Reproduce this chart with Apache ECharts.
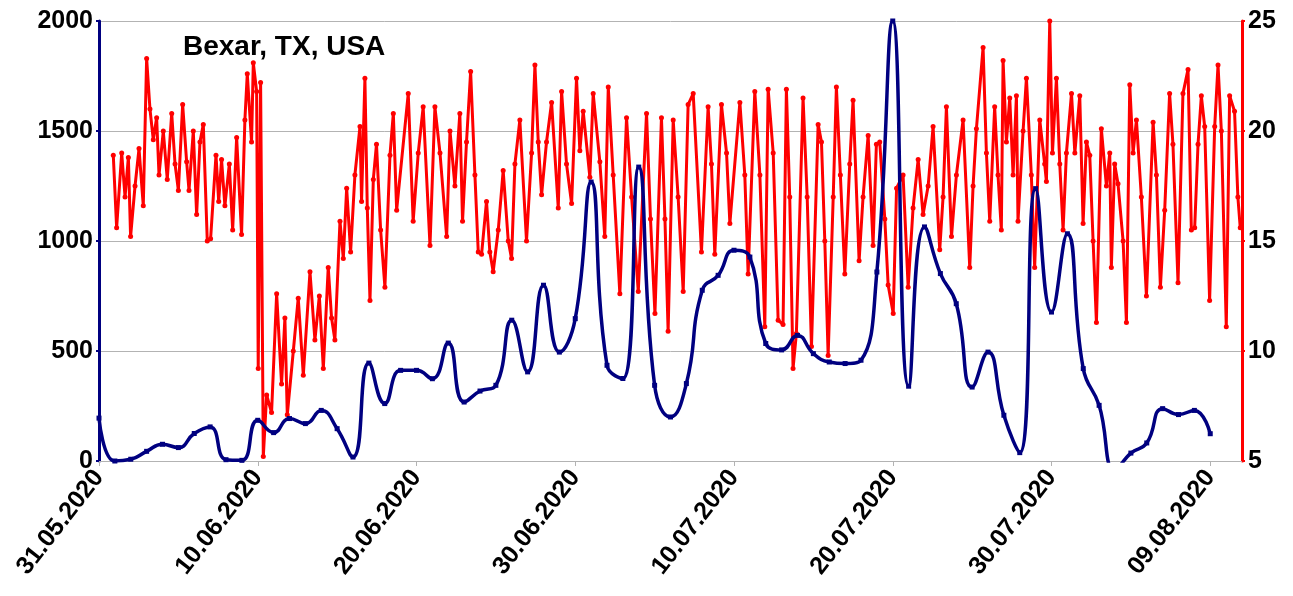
<!DOCTYPE html>
<html>
<head>
<meta charset="utf-8">
<script src="https://cdn.jsdelivr.net/npm/echarts@6/dist/echarts.min.js"></script>
<style>
  html, body { margin: 0; padding: 0; background: #fff; }
  #main { width: 1293px; height: 596px; }
</style>
</head>
<body>
<div id="main"></div>
<script>
// x axis is "days since 31.05.2020"
var dateLabels = ['31.05.2020', '10.06.2020', '20.06.2020', '30.06.2020',
  '10.07.2020', '20.07.2020', '30.07.2020', '09.08.2020'];

// daily values (left axis), one per day from 31.05 to 09.08
var dailyCases = [
  195, 0, 8, 44, 76, 61, 125, 155, 6, 3,
  185, 129, 193, 170, 230, 147, 18, 445, 261, 412,
  412, 374, 536, 268, 318, 344, 640, 405, 799, 495,
  647, 1268, 435, 375, 1336, 344, 200, 352, 776, 844,
  958, 927, 534, 505, 571, 488, 450, 443, 458, 859,
  2000, 340, 1064, 852, 715, 336, 495, 208, 38, 1238,
  677, 1033, 420, 253, -40, 36, 82, 238, 211, 230,
  124
];

// hourly-ish series (right axis): [day offset, value]
var temperature = [
  [0.90, 18.9], [1.11, 15.6], [1.43, 19.0], [1.64, 17.0], [1.85, 18.8], [1.99, 15.2],
  [2.27, 17.5], [2.52, 19.2], [2.79, 16.6], [3.00, 23.3], [3.21, 21.0], [3.42, 19.6],
  [3.63, 20.6], [3.78, 18.0], [4.05, 20.0], [4.30, 17.8], [4.58, 20.8], [4.79, 18.5],
  [5.00, 17.3], [5.27, 21.2], [5.52, 18.6], [5.67, 17.3], [5.94, 20.0], [6.15, 16.2],
  [6.36, 19.5], [6.57, 20.3], [6.82, 15.0], [7.03, 15.1], [7.37, 18.9], [7.54, 16.8],
  [7.72, 18.7], [7.93, 16.6], [8.21, 18.5], [8.42, 15.5], [8.67, 19.7], [8.98, 15.3],
  [9.19, 20.5], [9.34, 22.6], [9.61, 19.5], [9.72, 23.1], [9.93, 21.8], [10.03, 9.2],
  [10.18, 22.2], [10.35, 5.2], [10.56, 8.0], [10.87, 7.2], [11.19, 12.6], [11.50, 8.5],
  [11.71, 11.5], [11.86, 7.1], [12.24, 10.0], [12.55, 12.4], [12.87, 8.9], [13.29, 13.6],
  [13.60, 10.5], [13.88, 12.5], [14.13, 9.2], [14.44, 13.8], [14.65, 11.5], [14.86, 10.5],
  [15.18, 15.9], [15.39, 14.2], [15.60, 17.4], [15.85, 14.5], [16.12, 18.0], [16.44, 20.2],
  [16.54, 16.8], [16.75, 22.4], [16.90, 16.5], [17.07, 12.3], [17.28, 17.8], [17.48, 19.4],
  [17.74, 15.5], [18.01, 12.9], [18.33, 18.9], [18.54, 20.8], [18.75, 16.4], [19.48, 21.7],
  [19.79, 15.9], [20.11, 19.0], [20.42, 21.1], [20.85, 14.8], [21.16, 21.1], [21.48, 19.0],
  [21.90, 15.2], [22.11, 20.0], [22.42, 17.5], [22.73, 20.8], [22.90, 15.9], [23.15, 19.5],
  [23.41, 22.7], [23.68, 18.0], [23.89, 14.5], [24.10, 14.4], [24.41, 16.8], [24.62, 14.5],
  [24.83, 13.6], [25.15, 15.5], [25.46, 18.2], [25.78, 15.0], [25.99, 14.2], [26.20, 18.5],
  [26.51, 20.5], [26.93, 15.0], [27.25, 19.0], [27.46, 23.0], [27.67, 19.5], [27.88, 17.1],
  [28.19, 19.5], [28.51, 21.3], [28.93, 16.5], [29.14, 21.8], [29.45, 18.5], [29.77, 16.7],
  [30.08, 22.4], [30.29, 19.1], [30.50, 20.9], [30.92, 17.9], [31.13, 21.7], [31.55, 18.6],
  [31.86, 15.2], [32.08, 22.0], [32.39, 18.0], [32.81, 12.6], [33.23, 20.6], [33.55, 17.0],
  [33.97, 12.7], [34.49, 20.8], [34.74, 16.0], [35.02, 11.7], [35.43, 20.6], [35.65, 16.0],
  [35.85, 10.9], [36.17, 20.5], [36.48, 17.0], [36.80, 12.7], [37.11, 21.2], [37.43, 21.7],
  [37.95, 14.5], [38.37, 21.1], [38.58, 18.5], [38.79, 14.4], [39.21, 21.2], [39.53, 19.0],
  [39.74, 15.8], [40.37, 21.3], [40.68, 18.0], [40.89, 13.5], [41.31, 21.8], [41.63, 18.0],
  [41.94, 11.1], [42.15, 21.9], [42.47, 19.0], [42.78, 11.4], [43.09, 11.2], [43.30, 21.9],
  [43.51, 17.0], [43.72, 9.2], [43.93, 10.8], [44.35, 21.5], [44.61, 17.0], [44.88, 10.2],
  [45.30, 20.3], [45.51, 19.5], [45.72, 15.0], [45.93, 9.8], [46.25, 17.0], [46.45, 22.0],
  [46.70, 18.0], [46.98, 13.5], [47.29, 18.5], [47.50, 21.4], [47.88, 14.1], [48.13, 17.0],
  [48.45, 19.8], [48.76, 14.8], [48.97, 19.4], [49.18, 19.5], [49.50, 16.0], [49.71, 13.0],
  [50.03, 11.7], [50.24, 17.4], [50.65, 18.0], [50.97, 12.9], [51.28, 16.5], [51.60, 18.7],
  [51.91, 16.2], [52.23, 17.5], [52.54, 20.2], [52.96, 14.6], [53.17, 17.0], [53.38, 21.1],
  [53.70, 15.2], [54.01, 18.0], [54.43, 20.5], [54.85, 13.8], [55.06, 17.5], [55.27, 20.1],
  [55.69, 23.8], [55.90, 19.0], [56.11, 15.9], [56.42, 21.1], [56.63, 18.0], [56.84, 15.5],
  [56.95, 23.2], [57.16, 19.5], [57.37, 21.5], [57.58, 18.0], [57.79, 21.6], [57.89, 15.9],
  [58.21, 20.0], [58.42, 22.4], [58.73, 18.0], [58.94, 13.8], [59.26, 20.5], [59.57, 18.5],
  [59.68, 17.7], [59.89, 25.0], [60.06, 19.0], [60.31, 22.4], [60.52, 18.5], [60.73, 15.5],
  [60.94, 19.0], [61.26, 21.7], [61.47, 19.0], [61.78, 21.6], [61.99, 15.8], [62.20, 19.5],
  [62.41, 18.9], [62.62, 15.0], [62.83, 11.3], [63.14, 20.1], [63.46, 17.5], [63.67, 19.0],
  [63.77, 13.8], [63.98, 18.5], [64.19, 17.6], [64.51, 15.0], [64.72, 11.3], [64.93, 22.1],
  [65.14, 19.0], [65.35, 20.5], [65.66, 17.0], [65.98, 12.5], [66.40, 20.4], [66.61, 18.0],
  [66.86, 12.9], [67.13, 16.4], [67.44, 21.7], [67.65, 19.4], [67.97, 13.1], [68.28, 21.7],
  [68.60, 22.8], [68.81, 15.5], [69.02, 15.6], [69.23, 19.4], [69.44, 21.6], [69.65, 20.2],
  [69.96, 12.3], [70.28, 20.2], [70.49, 23.0], [70.70, 20.0], [71.01, 11.1], [71.22, 21.6],
  [71.53, 20.9], [71.74, 17.0], [71.89, 15.6]
];

var labelFont = {
  color: '#000',
  fontFamily: 'Liberation Sans',
  fontWeight: 'bold',
  fontSize: 25
};

(function() {
  var myChart = echarts.init(document.getElementById('main'));
  var casePoints = dailyCases.map(function(v, i) { return [i, v]; });
  var plain = function(v) { return String(v); };

  var option = {
    animation: false,
    backgroundColor: '#fff',
    title: {
      text: 'Bexar, TX, USA',
      left: 178,
      top: 28,
      textStyle: {
        color: '#000',
        fontFamily: 'Liberation Sans',
        fontWeight: 'bold',
        fontSize: 28
      }
    },
    grid: { left: 99, right: 51, top: 21, bottom: 135 },
    xAxis: {
      type: 'value',
      min: 0,
      max: 72,
      interval: 10,
      axisLine: { onZero: false, lineStyle: { color: '#b3b3b3', width: 1 } },
      axisTick: { show: true, length: 5, lineStyle: { color: '#b3b3b3' } },
      splitLine: { show: false },
      axisLabel: Object.assign({
        rotate: 52,
        margin: 12,
        showMaxLabel: false,
        formatter: function(v) {
          return v % 10 === 0 ? (dateLabels[v / 10] || '') : '';
        }
      }, labelFont)
    },
    yAxis: [
      {
        type: 'value',
        min: 0,
        max: 2000,
        interval: 500,
        axisLine: { show: true, lineStyle: { color: '#000080', width: 3 } },
        axisTick: { show: true, length: 3, lineStyle: { color: '#000080', width: 2 } },
        splitLine: { show: true, lineStyle: { color: '#b3b3b3', width: 1 } },
        axisLabel: Object.assign({ margin: 6, formatter: plain }, labelFont)
      },
      {
        type: 'value',
        position: 'right',
        min: 5,
        max: 25,
        interval: 5,
        axisLine: { show: true, lineStyle: { color: '#ff0000', width: 3 } },
        axisTick: { show: true, length: 3, lineStyle: { color: '#ff0000', width: 2 } },
        splitLine: { show: false },
        axisLabel: Object.assign({ margin: 6, formatter: plain }, labelFont)
      }
    ],
    series: [
      {
        name: 'temperature',
        type: 'line',
        yAxisIndex: 1,
        data: temperature,
        symbol: 'circle',
        symbolSize: 5,
        showAllSymbol: true,
        lineStyle: { color: '#ff0000', width: 3 },
        itemStyle: { color: '#ff0000' },
        z: 2
      },
      {
        name: 'cases',
        type: 'line',
        yAxisIndex: 0,
        data: casePoints,
        smooth: 0.5,
        symbol: 'rect',
        symbolSize: 5,
        showAllSymbol: true,
        lineStyle: { color: '#000080', width: 3.5 },
        itemStyle: { color: '#000080' },
        z: 3
      }
    ]
  };
  myChart.setOption(option);
})();
</script>
</body>
</html>
